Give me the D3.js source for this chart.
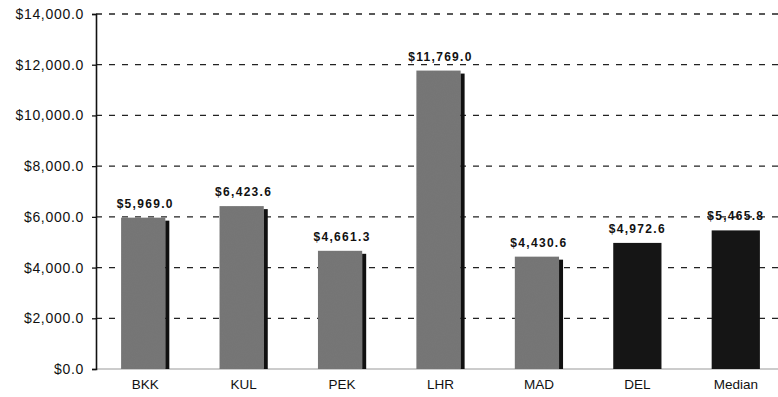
<!DOCTYPE html>
<html>
<head>
<meta charset="utf-8">
<script src="https://cdn.jsdelivr.net/npm/d3@7"></script>
<style>
  html, body { margin: 0; padding: 0; background: #fff; }
  svg { display: block; }
</style>
</head>
<body>
<svg id="chart" width="778" height="397"></svg>
<script>
// Cost per destination, in dollars
const categories = ["BKK", "KUL", "PEK", "LHR", "MAD", "DEL", "Median"];
const values = [5969.0, 6423.6, 4661.3, 11769.0, 4430.6, 4972.6, 5465.8];
const valueLabels = ["$5,969.0", "$6,423.6", "$4,661.3", "$11,769.0", "$4,430.6", "$4,972.6", "$5,465.8"];
const darkBars = ["DEL", "Median"];
const yTicks = [0, 2000, 4000, 6000, 8000, 10000, 12000, 14000];

const svg = d3.select("#chart");
const fontFamily = "Arial, 'Liberation Sans', Helvetica, sans-serif";

const x = d3.scaleBand().domain(categories).range([96, 785]).paddingInner(0.51).paddingOuter(0.255);
const y = d3.scaleLinear().domain([0, 14000]).range([369, 14]);

// Dashed gridlines
svg.append("g")
  .selectAll("line")
  .data(yTicks.filter(d => d > 0))
  .join("line")
  .attr("x1", 96).attr("x2", 778)
  .attr("y1", d => y(d)).attr("y2", d => y(d))
  .attr("stroke", "#222")
  .attr("stroke-width", 1.3)
  .attr("stroke-dasharray", "6,7");

// Baseline
svg.append("line")
  .attr("x1", 96).attr("x2", 778)
  .attr("y1", y(0)).attr("y2", y(0))
  .attr("stroke", "#999").attr("stroke-width", 1);

// Y axis
const fmt = d3.format("$,.1f");
const yAxis = d3.axisLeft(y).tickValues(yTicks).tickFormat(fmt).tickSize(4).tickPadding(8);
const gy = svg.append("g").attr("transform", "translate(96,0)").call(yAxis);
gy.select(".domain").attr("stroke", "#111").attr("stroke-width", 1.6);
gy.selectAll(".tick line").attr("stroke", "#111").attr("stroke-width", 1.3);
gy.selectAll(".tick text")
  .attr("font-family", fontFamily)
  .attr("font-size", 14)
  .attr("letter-spacing", 0.7)
  .attr("fill", "#111");

// Texture for the grey bars
const defs = svg.append("defs");
const filt = defs.append("filter").attr("id", "grain").attr("x", 0).attr("y", 0).attr("width", 1).attr("height", 1);
filt.append("feTurbulence").attr("type", "fractalNoise").attr("baseFrequency", 0.9).attr("numOctaves", 2).attr("seed", 3).attr("result", "noise");
filt.append("feColorMatrix").attr("in", "noise").attr("type", "matrix")
  .attr("values", "0 0 0 0 0.2  0 0 0 0 0.2  0 0 0 0 0.2  0 0 0 0.6 -0.15").attr("result", "speck");
filt.append("feComposite").attr("in", "speck").attr("in2", "SourceGraphic").attr("operator", "atop");

const data = categories.map((c, i) => ({ cat: c, value: values[i], label: valueLabels[i], dark: darkBars.includes(c) }));
const stripe = 4;

const bars = svg.append("g").selectAll("g").data(data).join("g");

bars.append("rect")
  .attr("x", d => x(d.cat))
  .attr("y", d => y(d.value))
  .attr("width", d => x.bandwidth() - (d.dark ? 0 : stripe))
  .attr("height", d => y(0) - y(d.value))
  .attr("fill", d => d.dark ? "#151515" : "#747474")
  .attr("filter", d => d.dark ? null : "url(#grain)");

// Dark edge on the right of each grey bar
bars.filter(d => !d.dark).append("rect")
  .attr("x", d => x(d.cat) + x.bandwidth() - stripe)
  .attr("y", d => y(d.value) + 3)
  .attr("width", stripe)
  .attr("height", d => y(0) - y(d.value) - 3)
  .attr("fill", "#111");

// Value labels
bars.append("text")
  .attr("x", d => x(d.cat) + x.bandwidth() / 2)
  .attr("y", d => y(d.value) - 10)
  .attr("text-anchor", "middle")
  .attr("font-family", fontFamily)
  .attr("font-size", 12)
  .attr("font-weight", "bold")
  .attr("letter-spacing", 1.3)
  .attr("fill", "#111")
  .text(d => d.label);

// Category labels
const xAxis = d3.axisBottom(x).tickSize(0).tickPadding(10);
const gx = svg.append("g").attr("transform", `translate(0,${y(0)})`).call(xAxis);
gx.select(".domain").remove();
gx.selectAll(".tick text")
  .attr("font-family", fontFamily)
  .attr("font-size", 13.5)
  .attr("fill", "#111");
</script>
</body>
</html>
